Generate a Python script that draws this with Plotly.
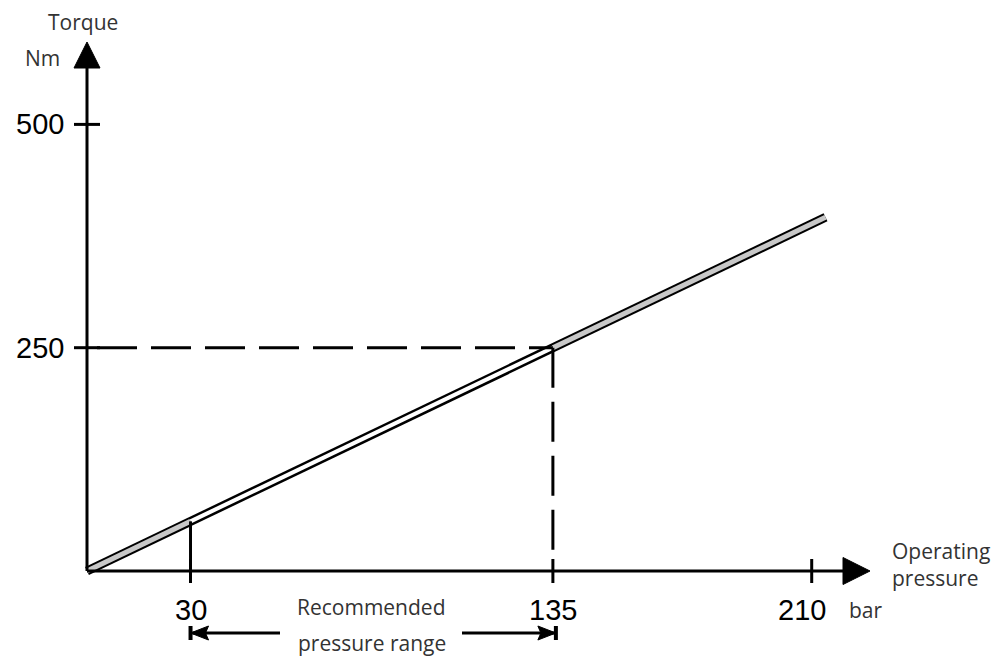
import plotly.graph_objects as go

# ---- data ----
pressure = [0, 30, 135, 214]          # bar
torque = [0, 55.6, 250, 396]          # Nm
x_ticks = [30, 135, 210]
x_tick_labels = ["30", "135", "210"]
y_ticks = [250, 500]
y_tick_labels = ["250", "500"]
range_lo, range_hi = 30, 135
ref_p, ref_t = 135, 250

# ---- geometry (pixel scale of the drawing) ----
OFF = 8                       # page body margin
W, H = 1007 - 2 * OFF, 664 - 2 * OFF
X0PX, Y0PX = 87, 571          # page-pixel position of the origin
SX = 3.451                    # px per bar
SY = 0.8932                   # px per Nm
XR = [(OFF - X0PX) / SX, (OFF + W - X0PX) / SX]
YR = [(Y0PX - OFF - H) / SY, (Y0PX - OFF) / SY]

def dx(px):
    return px / SX

def dy(px):
    return px / SY

fig = go.Figure()

# torque curve: black outline with coloured core
fig.add_trace(go.Scatter(x=pressure, y=torque, mode="lines",
                         line=dict(color="black", width=9), hoverinfo="skip"))
fig.add_trace(go.Scatter(x=pressure[:2], y=torque[:2], mode="lines",
                         line=dict(color="#c8c8c8", width=5), hoverinfo="skip"))
fig.add_trace(go.Scatter(x=pressure[1:3], y=torque[1:3], mode="lines",
                         line=dict(color="white", width=4), hoverinfo="skip"))
fig.add_trace(go.Scatter(x=pressure[2:], y=torque[2:], mode="lines",
                         line=dict(color="#c8c8c8", width=5), hoverinfo="skip"))

shapes = []
BL = dict(color="black", width=3)

# axes
y_tip = dy(Y0PX - 42)
y_base = dy(Y0PX - 68)
x_tip = dx(870 - X0PX)
x_base = dx(843 - X0PX)
shapes.append(dict(type="line", xref="x", yref="y", x0=0, y0=0, x1=0, y1=y_base + dy(2), line=BL))
shapes.append(dict(type="line", xref="x", yref="y", x0=0, y0=0, x1=x_base + dx(2), y1=0, line=BL))
shapes.append(dict(type="path", xref="x", yref="y",
                   path=f"M {-dx(13)},{y_base} L {dx(13)},{y_base} L 0,{y_tip} Z",
                   fillcolor="black", line=dict(color="black", width=1)))
shapes.append(dict(type="path", xref="x", yref="y",
                   path=f"M {x_base},{dy(13.5)} L {x_base},{-dy(13.5)} L {x_tip},0 Z",
                   fillcolor="black", line=dict(color="black", width=1)))

# y ticks
for v in y_ticks:
    shapes.append(dict(type="line", xref="x", yref="y", x0=-dx(13), x1=dx(13), y0=v, y1=v, line=BL))

# x ticks
for v in x_ticks:
    shapes.append(dict(type="line", xref="x", yref="y", x0=v, x1=v, y0=dy(12), y1=-dy(12), line=BL))

# vertical at start of recommended range (solid, from curve)
t_lo = torque[pressure.index(range_lo)]
shapes.append(dict(type="line", xref="x", yref="y", x0=range_lo, x1=range_lo, y0=t_lo, y1=-dy(12), line=BL))

# dashed reference lines at 135 bar / 250 Nm
DL = dict(color="black", width=3, dash="40px,14px")
shapes.append(dict(type="line", xref="x", yref="y", x0=dx(10), x1=ref_p, y0=ref_t, y1=ref_t, line=DL))
shapes.append(dict(type="line", xref="x", yref="y", x0=ref_p, x1=ref_p, y0=ref_t, y1=dy(12), line=DL))

# recommended range arrow
y_arr = -dy(633 - Y0PX)
shapes.append(dict(type="line", xref="x", yref="y", x0=range_lo + dx(2), x1=dx(280 - X0PX), y0=y_arr, y1=y_arr, line=BL))
shapes.append(dict(type="line", xref="x", yref="y", x0=dx(462 - X0PX), x1=range_hi + dx(2), y0=y_arr, y1=y_arr, line=BL))
for tip, sgn in [(range_lo, 1), (range_hi + dx(3), -1)]:
    shapes.append(dict(type="path", xref="x", yref="y",
                       path=(f"M {tip},{y_arr} L {tip + sgn*dx(18)},{y_arr + dy(7)} "
                             f"L {tip + sgn*dx(15)},{y_arr} L {tip + sgn*dx(18)},{y_arr - dy(7)} Z"),
                       fillcolor="black", line=dict(color="black", width=1)))
    shapes.append(dict(type="line", xref="x", yref="y", x0=tip, x1=tip,
                       y0=y_arr + dy(7), y1=y_arr - dy(7), line=dict(color="black", width=4)))

annotations = []
NUMF = dict(family="Liberation Sans, Arial, sans-serif", size=29, color="black")
TXTF = dict(family="Open Sans, sans-serif", size=21, color="#333333")

for v, lab in zip(y_ticks, y_tick_labels):
    annotations.append(dict(x=-dx(21), y=v, xref="x", yref="y", text=lab, showarrow=False,
                            xanchor="right", yanchor="middle", font=NUMF))
for v, lab in zip(x_ticks, x_tick_labels):
    annotations.append(dict(x=v, y=-dy(39), xref="x", yref="y", text=lab, showarrow=False,
                            xanchor="center", yanchor="middle", font=NUMF,
                            xshift=-10 if v == 210 else 0))

annotations.append(dict(x=dx(83 - X0PX), y=dy(Y0PX - 22), xref="x", yref="y", text="Torque",
                        showarrow=False, xanchor="center", yanchor="middle", font=TXTF))
annotations.append(dict(x=dx(42 - X0PX), y=dy(Y0PX - 58), xref="x", yref="y", text="Nm",
                        showarrow=False, xanchor="center", yanchor="middle", font=TXTF))
annotations.append(dict(x=dx(890 - X0PX), y=dy(Y0PX - 564), xref="x", yref="y",
                        text="Operating<br>pressure", showarrow=False, xanchor="left",
                        yanchor="middle", align="left", font=TXTF))
annotations.append(dict(x=dx(847 - X0PX), y=-dy(610 - Y0PX), xref="x", yref="y", text="bar",
                        showarrow=False, xanchor="left", yanchor="middle", font=TXTF))
mid = (range_lo + range_hi) / 2
annotations.append(dict(x=mid, y=-dy(607 - Y0PX), xref="x", yref="y", text="Recommended",
                        showarrow=False, xanchor="center", yanchor="middle", font=TXTF))
annotations.append(dict(x=mid, y=-dy(643 - Y0PX), xref="x", yref="y", text="pressure range",
                        showarrow=False, xanchor="center", yanchor="middle", font=TXTF))

fig.update_layout(
    width=W, height=H, autosize=False,
    margin=dict(l=0, r=0, t=0, b=0, pad=0),
    paper_bgcolor="white", plot_bgcolor="white",
    showlegend=False,
    xaxis=dict(range=XR, visible=False, fixedrange=True),
    yaxis=dict(range=YR, visible=False, fixedrange=True),
    shapes=shapes, annotations=annotations,
)

fig.write_html("out.html")
